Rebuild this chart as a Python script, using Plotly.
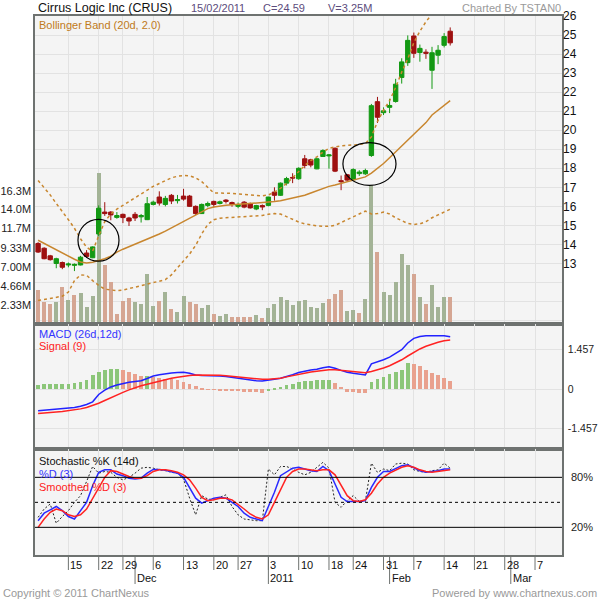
import pandas as pd
import plotly.graph_objects as go

# CRUS daily data (8 Nov 2010 .. 15 Feb 2011)
holidays = ['2010-11-25', '2010-12-24', '2011-01-17']

open_ = [14.05, 13.80, 13.40, 13.00, 13.05, 12.92, 12.90, 12.92, 13.55, 13.30,
         14.55, 15.70, 15.70, 15.42, 15.58, 15.39, 15.58, 15.45, 15.30, 16.10,
         16.49, 16.10, 16.58, 16.30, 16.54, 16.54, 16.00, 15.62, 16.05, 16.26,
         16.15, 16.33, 16.20, 16.00, 16.22, 16.14, 15.86, 16.04, 16.05, 16.75,
         16.58, 17.22, 17.52, 17.45, 18.50, 18.45, 17.97, 18.62, 18.65, 19.05,
         17.35, 17.66, 17.40, 17.72, 17.71, 18.67, 21.50, 20.92, 21.20, 21.51,
         22.77, 23.55, 24.95, 24.08, 24.10, 23.15, 23.94, 24.46, 25.20]
high = [14.12, 13.85, 13.45, 13.30, 13.10, 13.05, 13.00, 13.40, 13.70, 13.90,
        16.05, 16.22, 15.75, 15.70, 15.62, 15.45, 15.70, 15.60, 16.49, 16.30,
        16.79, 16.55, 16.65, 16.60, 16.92, 16.60, 16.05, 16.15, 16.25, 16.30,
        16.30, 16.38, 16.25, 16.20, 16.28, 16.20, 16.08, 16.10, 16.50, 17.00,
        17.25, 17.55, 17.74, 18.05, 18.70, 18.50, 18.55, 19.00, 18.75, 19.10,
        17.62, 17.70, 18.00, 17.90, 17.98, 21.38, 21.75, 21.20, 21.65, 22.70,
        23.78, 24.98, 25.13, 24.50, 24.25, 24.38, 24.47, 25.10, 25.40]
low = [13.55, 13.22, 13.15, 12.75, 12.70, 12.80, 12.60, 12.90, 13.30, 13.28,
       14.43, 15.50, 15.27, 15.35, 15.12, 14.97, 15.23, 15.15, 15.28, 16.05,
       16.04, 16.00, 16.12, 16.15, 16.30, 15.97, 15.55, 15.60, 15.95, 15.95,
       16.10, 16.15, 15.98, 15.90, 15.90, 15.88, 15.80, 15.80, 16.00, 16.30,
       16.55, 17.10, 17.22, 17.40, 18.00, 18.05, 17.95, 18.60, 17.98, 17.80,
       16.85, 17.30, 17.38, 17.60, 17.65, 18.60, 20.38, 20.80, 20.90, 21.45,
       22.45, 23.38, 23.80, 23.60, 23.75, 22.17, 23.47, 24.35, 24.45]
close = [13.60, 13.25, 13.20, 13.25, 12.80, 12.97, 12.95, 13.33, 13.37, 13.87,
         15.90, 15.62, 15.55, 15.52, 15.41, 15.23, 15.39, 15.52, 16.14, 16.22,
         16.17, 16.42, 16.28, 16.36, 16.38, 16.00, 15.62, 16.10, 16.15, 16.10,
         16.24, 16.26, 16.10, 16.08, 15.96, 15.92, 16.04, 15.97, 16.49, 16.58,
         17.22, 17.46, 17.49, 18.00, 18.15, 18.17, 18.50, 18.93, 18.70, 17.85,
         17.30, 17.38, 17.93, 17.80, 17.88, 21.29, 20.68, 21.02, 21.30, 22.42,
         23.59, 24.72, 24.04, 24.30, 24.04, 24.07, 24.20, 24.92, 24.59]
volume_m = [4.15, 2.73, 2.44, 2.69, 4.52, 2.93, 3.54, 3.79, 2.08, 3.42,
            18.5, 7.20, 5.13, 1.22, 2.81, 3.17, 2.69, 2.44, 6.10, 2.20,
            2.81, 3.91, 1.83, 1.47, 3.42, 2.69, 2.44, 1.95, 2.32, 1.22,
            0.98, 1.22, 0.85, 0.85, 0.85, 0.90, 1.14, 0.73, 1.99, 2.48,
            3.34, 2.97, 2.36, 2.85, 2.97, 2.12, 1.99, 2.60, 3.09, 3.70,
            4.19, 1.63, 1.75, 1.38, 3.09, 17.05, 8.83, 3.95, 3.58, 5.17,
            8.59, 7.24, 6.15, 3.34, 2.48, 4.80, 2.12, 3.34, 3.25]

bb_upper = [17.36, 17.00, 16.60, 16.15, 15.75, 15.30, 14.85, 14.30, 13.85, 13.65,
            14.45, 15.20, 15.60, 15.85, 16.05, 16.25, 16.45, 16.65, 16.85, 17.05,
            17.20, 17.35, 17.50, 17.58, 17.62, 17.60, 17.50, 17.30, 17.00, 16.70,
            16.70, 16.70, 16.68, 16.65, 16.62, 16.58, 16.55, 16.55, 16.60, 16.75,
            16.95, 17.20, 17.50, 17.85, 18.15, 18.40, 18.60, 18.85, 19.05, 19.12,
            19.18, 19.20, 19.22, 19.25, 19.30, 19.65, 20.45, 21.05, 21.55, 22.25,
            23.05, 23.75, 24.60, 25.20, 25.70, 26.10, 26.50, 26.90, 27.30]
bb_mid = [14.22, 14.05, 13.88, 13.72, 13.55, 13.38, 13.22, 13.08, 13.03, 13.06,
          13.14, 13.25, 13.38, 13.60, 13.75, 13.88, 14.00, 14.12, 14.25, 14.40,
          14.55, 14.70, 14.87, 15.03, 15.20, 15.38, 15.55, 15.72, 15.88, 15.97,
          16.02, 16.06, 16.08, 16.10, 16.12, 16.13, 16.15, 16.17, 16.20, 16.25,
          16.30, 16.37, 16.42, 16.48, 16.58, 16.70, 16.82, 16.95, 17.05, 17.12,
          17.20, 17.28, 17.36, 17.45, 17.55, 17.75, 18.00, 18.25, 18.55, 18.85,
          19.15, 19.45, 19.80, 20.10, 20.40, 20.80, 21.05, 21.30, 21.55]
bb_lower = [11.05, 11.10, 11.15, 11.20, 11.28, 11.50, 12.10, 12.40, 12.38, 12.10,
            11.85, 11.65, 11.60, 11.57, 11.60, 11.68, 11.78, 11.85, 11.93, 12.00,
            12.08, 12.15, 12.40, 12.75, 13.10, 13.50, 13.95, 14.55, 15.05, 15.30,
            15.38, 15.40, 15.42, 15.42, 15.45, 15.45, 15.48, 15.52, 15.58, 15.62,
            15.60, 15.45, 15.30, 15.18, 15.08, 15.02, 14.98, 14.95, 14.95, 15.00,
            15.15, 15.30, 15.45, 15.60, 15.75, 15.60, 15.62, 15.70, 15.60, 15.40,
            15.25, 15.10, 15.05, 15.08, 15.20, 15.40, 15.55, 15.72, 15.85]

macd = [-0.80, -0.78, -0.76, -0.74, -0.73, -0.71, -0.68, -0.63, -0.57, -0.47,
        -0.20, -0.04, 0.08, 0.15, 0.21, 0.25, 0.28, 0.31, 0.39, 0.48,
        0.53, 0.57, 0.59, 0.61, 0.62, 0.58, 0.52, 0.50, 0.50, 0.49,
        0.48, 0.46, 0.43, 0.40, 0.37, 0.33, 0.31, 0.30, 0.32, 0.36,
        0.40, 0.46, 0.53, 0.61, 0.66, 0.70, 0.73, 0.79, 0.82, 0.77,
        0.69, 0.62, 0.58, 0.55, 0.52, 0.93, 1.00, 1.08, 1.18, 1.30,
        1.45, 1.70, 1.87, 1.94, 1.97, 1.97, 1.97, 1.97, 1.93]
signal = [-0.90, -0.89, -0.87, -0.85, -0.83, -0.80, -0.77, -0.73, -0.68, -0.61,
          -0.52, -0.42, -0.31, -0.21, -0.12, -0.03, 0.05, 0.12, 0.18, 0.24,
          0.30, 0.35, 0.40, 0.44, 0.48, 0.50, 0.52, 0.52, 0.52, 0.52,
          0.51, 0.49, 0.47, 0.45, 0.42, 0.39, 0.37, 0.36, 0.36, 0.37,
          0.40, 0.45, 0.50, 0.55, 0.59, 0.63, 0.66, 0.69, 0.71, 0.71,
          0.69, 0.66, 0.64, 0.62, 0.60, 0.65, 0.71, 0.78, 0.86, 0.96,
          1.08, 1.22, 1.36, 1.48, 1.58, 1.66, 1.73, 1.78, 1.81]
macd_hist = [0.16, 0.17, 0.18, 0.18, 0.18, 0.19, 0.22, 0.27, 0.33, 0.52,
             0.62, 0.69, 0.73, 0.74, 0.70, 0.63, 0.56, 0.48, 0.50, 0.44,
             0.40, 0.38, 0.36, 0.33, 0.27, 0.19, 0.10, 0.02, -0.01, -0.03,
             -0.04, -0.05, -0.07, -0.08, -0.09, -0.11, -0.12, -0.13, -0.06, 0.04,
             0.09, 0.14, 0.20, 0.25, 0.28, 0.30, 0.32, 0.33, 0.34, 0.21,
             0.09, -0.10, -0.12, -0.13, -0.14, 0.27, 0.36, 0.46, 0.54, 0.62,
             0.70, 0.95, 0.92, 0.86, 0.70, 0.60, 0.52, 0.42, 0.30]

stoch_k = [32, 42, 48, 25, 33, 40, 50, 58, 75, 93,
           85, 87, 86, 80, 77, 80, 85, 91, 92, 91,
           89, 88, 86, 85, 78, 55, 35, 58, 54, 53,
           56, 59, 45, 35, 30, 29, 28, 28, 90, 83,
           93, 93, 90, 86, 83, 86, 92, 98, 91, 50,
           44, 52, 58, 51, 51, 97, 86, 90, 88, 96,
           97, 96, 89, 87, 86, 88, 89, 97, 91]
stoch_d = [28, 37, 41, 45, 40, 33, 30, 40, 50, 70,
           86, 89, 89, 84, 82, 79, 78, 79, 85, 89.5,
           89.5, 88.5, 87, 85, 80, 68, 55, 49, 52, 55,
           56, 55, 50, 45, 37, 32, 30, 28, 45, 62,
           82, 86, 91, 92, 90, 88, 87, 93, 88, 72,
           56, 51, 51, 51, 52, 68, 80, 87, 87, 91,
           94, 95, 91, 88, 86, 87, 88, 90, 90]
stoch_sd = [20, 30, 38, 42, 40, 35, 33, 35, 42, 55,
            67, 80, 88, 87, 84, 81, 79, 79, 82, 87,
            89, 89, 88, 86, 83, 77, 67, 56, 52, 53,
            55, 55, 53, 48, 42, 36, 32, 30, 35, 50,
            66, 80, 87, 90, 90, 89, 88, 89, 89, 83,
            70, 58, 52, 51, 53, 61, 72, 80, 85, 89,
            92, 94, 92, 89, 87, 86, 87, 88, 89]

vol_ticks = [2.33, 4.66, 7.00, 9.33, 11.7, 14.0, 16.3]
month_names = {12: 'Dec', 2: 'Feb', 3: 'Mar'}

# trading calendar: the x axis is one slot per trading day, running past the last bar
cal = pd.bdate_range('2010-11-08', '2011-03-11')
cal = cal[~cal.isin(pd.to_datetime(holidays))]
idx = list(range(len(close)))

week_pos, week_txt, month_pos, month_txt = [], [], [], []
for i, d in enumerate(cal):
    if i > 0 and cal[i - 1].isocalendar()[1] != d.isocalendar()[1]:
        week_pos.append(i)
        week_txt.append(str(d.day))
    if i > 0 and cal[i - 1].month != d.month:
        month_pos.append(i)
        month_txt.append(str(d.year) if d.month == 1 else month_names[d.month])

GREEN, RED = '#139913', '#9e1010'
VGREEN, VPINK = '#a3b396', '#d5a693'
HGREEN, HPINK = '#8cc679', '#e9a18e'
BB = '#c8862e'
GRID = '#e2e2e2'
FRAME = '#6e7270'
FONT = 'Liberation Sans, Arial, sans-serif'

vol_col = []
for i in idx:
    prev = close[i - 1] if i > 0 else open_[0]
    vol_col.append(VGREEN if close[i] >= prev else VPINK)
hist_col = [HGREEN if i == 0 or macd_hist[i] >= macd_hist[i - 1] else HPINK for i in idx]

fig = go.Figure()
fig.add_trace(go.Bar(x=idx, y=volume_m, marker_color=vol_col, marker_line_width=0,
                     width=0.66, xaxis='x', yaxis='y'))
fig.add_trace(go.Candlestick(x=idx, open=open_, high=high, low=low, close=close,
                             increasing=dict(line=dict(color=GREEN, width=1), fillcolor=GREEN),
                             decreasing=dict(line=dict(color=RED, width=1), fillcolor=RED),
                             xaxis='x', yaxis='y2'))
fig.add_trace(go.Scatter(x=idx, y=bb_upper, mode='lines', line=dict(color=BB, width=1.5, dash='3px,3px'),
                         xaxis='x', yaxis='y2'))
fig.add_trace(go.Scatter(x=idx, y=bb_lower, mode='lines', line=dict(color=BB, width=1.5, dash='3px,3px'),
                         xaxis='x', yaxis='y2'))
fig.add_trace(go.Scatter(x=idx, y=bb_mid, mode='lines', line=dict(color=BB, width=1.5),
                         xaxis='x', yaxis='y2'))

fig.add_trace(go.Bar(x=idx, y=macd_hist, marker_color=hist_col, marker_line_width=0,
                     width=0.62, xaxis='x2', yaxis='y3'))
fig.add_trace(go.Scatter(x=idx, y=macd, mode='lines', line=dict(color='#2222ff', width=1.5),
                         xaxis='x2', yaxis='y3'))
fig.add_trace(go.Scatter(x=idx, y=signal, mode='lines', line=dict(color='#ff2222', width=1.5),
                         xaxis='x2', yaxis='y3'))

fig.add_trace(go.Scatter(x=idx, y=stoch_k, mode='lines', line=dict(color='#222222', width=1, dash='2px,2px'),
                         xaxis='x3', yaxis='y4'))
fig.add_trace(go.Scatter(x=idx, y=stoch_d, mode='lines', line=dict(color='#2a2aff', width=1.5),
                         xaxis='x3', yaxis='y4'))
fig.add_trace(go.Scatter(x=idx, y=stoch_sd, mode='lines', line=dict(color='#ff2222', width=1.5),
                         xaxis='x3', yaxis='y4'))

# page geometry (pixels) -> paper coordinates
W, H, ML, MR, MT, MB = 600, 600, 35, 38, 16, 45
def pp(xp, yp):
    return (xp - ML) / (W - ML - MR), (H - MB - yp) / (H - MT - MB)

d_price = [pp(0, 324)[1], 1]
d_macd = [pp(0, 449)[1], pp(0, 324)[1]]
d_stoch = [0, pp(0, 449)[1]]
xr = [-0.51, 86.45]

xcommon = dict(range=xr, tickvals=week_pos, showticklabels=False, ticks='', showgrid=True,
               gridcolor=GRID, gridwidth=1, zeroline=False, showline=True, mirror=True,
               linecolor=FRAME, linewidth=1.5, domain=[0, 1])
tickfont = dict(family=FONT, size=11, color='#222222')

fig.update_layout(
    width=W, height=H, template='none', showlegend=False,
    paper_bgcolor='white', plot_bgcolor='#f4f4f4',
    margin=dict(l=ML, r=MR, t=MT, b=MB, autoexpand=False),
    boxgap=0.1, boxgroupgap=0.2, bargap=0,
    font=dict(family=FONT, size=11, color='#222222'),
    xaxis=dict(xcommon, anchor='y', rangeslider=dict(visible=False)),
    xaxis2=dict(xcommon, anchor='y3', matches='x'),
    xaxis3=dict(xcommon, anchor='y4', matches='x'),
    yaxis=dict(domain=d_price, range=[0, 37.7], side='left', tickvals=vol_ticks,
               ticktext=['%.2fM' % v if v < 10 else '%.1fM' % v for v in vol_ticks],
               showgrid=False, zeroline=False, ticks='', tickfont=tickfont,
               showline=True, mirror=True, linecolor=FRAME, linewidth=1.5),
    yaxis2=dict(overlaying='y', side='right', range=[9.82, 26.0], tickvals=list(range(10, 27)),
                ticktext=[str(v) if v >= 13 else '' for v in range(10, 27)],
                showgrid=True, gridcolor=GRID, zeroline=False, ticks='',
                tickfont=dict(family=FONT, size=12, color='#111111')),
    yaxis3=dict(domain=d_macd, anchor='x2', range=[-2.21, 2.40], side='right',
                tickvals=[-1.457, 0, 1.457], ticktext=['-1.457', '0', '1.457'],
                showgrid=True, gridcolor=GRID, zeroline=False, ticks='',
                tickfont=dict(family=FONT, size=10.5, color='#222222'),
                ticklabelstandoff=2, showline=True, mirror=True, linecolor=FRAME, linewidth=1.5),
    yaxis4=dict(domain=d_stoch, anchor='x3', range=[-13.2, 114], side='right',
                tickvals=[20, 80], ticktext=['20%', '80%'], showgrid=False, zeroline=False,
                ticks='', tickfont=tickfont, ticklabelstandoff=5,
                showline=True, mirror=True, linecolor=FRAME, linewidth=1.5),
)

shapes = []
for lvl, dash in [(80, 'solid'), (20, 'solid'), (50, 'dot')]:
    shapes.append(dict(type='line', xref='x3 domain', yref='y4', x0=0, x1=1, y0=lvl, y1=lvl,
                       line=dict(color='black', width=1, dash=dash)))
# hand-drawn circles on the price panel
for x0, x1, y0, y1 in [(6.58, 13.35, 13.12, 15.32), (50.3, 59.06, 17.10, 19.35)]:
    shapes.append(dict(type='circle', xref='x', yref='y2', x0=x0, x1=x1, y0=y0, y1=y1,
                       line=dict(color='black', width=1.2)))
# date ticks below the bottom panel
y_ax = 0
y_day = pp(0, 570)[1]
y_mon = pp(0, 584)[1]
for p in week_pos:
    shapes.append(dict(type='line', xref='x3', yref='paper', x0=p, x1=p, y0=y_ax, y1=y_day,
                       line=dict(color=FRAME, width=1)))
for p in month_pos:
    shapes.append(dict(type='line', xref='x3', yref='paper', x0=p, x1=p, y0=y_ax, y1=y_mon,
                       line=dict(color=FRAME, width=1)))
fig.update_layout(shapes=shapes)

ann = []
def label(text, xp, yp, color='#222222', size=11, anchor='left'):
    x, y = pp(xp, yp)
    ann.append(dict(text=text, x=x, y=y, xref='paper', yref='paper', showarrow=False,
                    xanchor=anchor, yanchor='middle', font=dict(family=FONT, size=size, color=color)))

label('Cirrus Logic Inc (CRUS)', 36, 8, '#111111', 12.5)
label(cal[len(close) - 1].strftime('%d/%m/%Y'), 189, 8, '#5c4c7c')
label('C=%.2f' % close[-1], 261, 8, '#5c4c7c')
label('V=%.2fM' % volume_m[-1], 326, 8, '#5c4c7c')
label('Charted By TSTAN0', 563, 8, '#9a9a9a', 11, 'right')
label('Bollinger Band (20d, 2.0)', 37, 25, '#c07a20')
label('MACD (26d,12d)', 37, 334, '#3333ff')
label('Signal (9)', 37, 346, '#ff2222')
label('Stochastic %K (14d)', 37, 461, '#111111')
label('%D (3)', 37, 474, '#3333ff')
label('Smoothed %D (3)', 37, 487, '#ff2222')
label('Copyright © 2011 ChartNexus', 1, 593, '#999999')
label('Powered by www.chartnexus.com', 599, 593, '#999999', 11, 'right')

for p, t in zip(week_pos, week_txt):
    ann.append(dict(text=t, x=p, y=pp(0, 565)[1], xref='x3', yref='paper', showarrow=False,
                    xanchor='left', yanchor='middle', xshift=0,
                    font=dict(family=FONT, size=11, color='#111111')))
for p, t in zip(month_pos, month_txt):
    ann.append(dict(text=t, x=p, y=pp(0, 578)[1], xref='x3', yref='paper', showarrow=False,
                    xanchor='left', yanchor='middle', xshift=0,
                    font=dict(family=FONT, size=11, color='#111111')))
fig.update_layout(annotations=ann)

# the page's default body margin would push the 600x600 figure off the window
fig.write_html('out.html', config={'displayModeBar': False},
               post_script="document.body.style.margin='0';")
